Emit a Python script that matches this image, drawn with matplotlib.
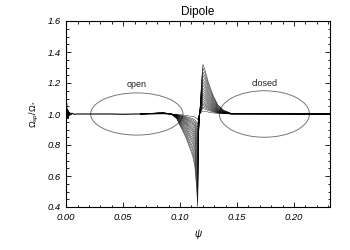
import matplotlib
matplotlib.use("Agg")
import matplotlib.pyplot as plt
from matplotlib.patches import Ellipse
from matplotlib.ticker import MultipleLocator, FormatStrFormatter

plt.rcParams['font.family'] = ['Liberation Sans', 'DejaVu Sans']
plt.rcParams['mathtext.fontset'] = 'custom'
plt.rcParams['mathtext.rm'] = 'Liberation Sans'
plt.rcParams['mathtext.it'] = 'Liberation Sans:italic'

# inner region: wiggle near the axis, then flat
psi_start = [0.0, 0.0004, 0.0008, 0.0012, 0.0016, 0.002, 0.0025, 0.003, 0.004,
             0.005, 0.007, 0.010, 0.015, 0.020, 0.030, 0.040, 0.050, 0.060, 0.065]
omega_start = [1.00, 1.07, 0.98, 1.03, 0.97, 1.02, 0.99, 1.01, 0.995,
               1.005, 0.998, 1.0, 1.0, 1.0, 1.0, 1.0, 0.998, 1.0, 1.0]

# family of curves across the separatrix
psi_fan = [0.065, 0.085, 0.092, 0.097, 0.101, 0.105, 0.108, 0.111, 0.113, 0.1145,
           0.1155, 0.1162, 0.117, 0.118, 0.119, 0.120, 0.122, 0.125, 0.129, 0.133,
           0.138, 0.145, 0.231]
omega_fan = [
    [1.0, 1.010, 1.0, 0.970, 0.910, 0.850, 0.790, 0.730, 0.660, 0.520, 0.400, 0.850,
     0.980, 1.100, 1.230, 1.320, 1.280, 1.200, 1.120, 1.060, 1.025, 1.003, 1.0],
    [1.0, 1.009, 1.0, 0.972, 0.916, 0.861, 0.805, 0.749, 0.684, 0.554, 0.442, 0.861,
     0.981, 1.093, 1.214, 1.298, 1.260, 1.186, 1.112, 1.056, 1.023, 1.003, 1.0],
    [1.0, 1.008, 1.0, 0.975, 0.924, 0.873, 0.822, 0.771, 0.711, 0.592, 0.490, 0.873,
     0.983, 1.085, 1.196, 1.272, 1.238, 1.170, 1.102, 1.051, 1.021, 1.003, 1.0],
    [1.0, 1.008, 1.0, 0.977, 0.930, 0.883, 0.836, 0.789, 0.735, 0.626, 0.532, 0.883,
     0.984, 1.078, 1.179, 1.250, 1.218, 1.156, 1.094, 1.047, 1.020, 1.002, 1.0],
    [1.0, 1.007, 1.0, 0.979, 0.937, 0.895, 0.853, 0.811, 0.762, 0.664, 0.580, 0.895,
     0.986, 1.070, 1.161, 1.224, 1.196, 1.140, 1.084, 1.042, 1.018, 1.002, 1.0],
    [1.0, 1.006, 1.0, 0.981, 0.942, 0.904, 0.866, 0.827, 0.782, 0.693, 0.616, 0.904,
     0.987, 1.064, 1.147, 1.205, 1.179, 1.128, 1.077, 1.038, 1.016, 1.002, 1.0],
    [1.0, 1.006, 1.0, 0.983, 0.948, 0.913, 0.878, 0.843, 0.803, 0.722, 0.652, 0.913,
     0.988, 1.058, 1.133, 1.186, 1.162, 1.116, 1.070, 1.035, 1.015, 1.002, 1.0],
    [1.0, 1.005, 1.0, 0.984, 0.953, 0.922, 0.891, 0.860, 0.823, 0.750, 0.688, 0.922,
     0.990, 1.052, 1.120, 1.166, 1.146, 1.104, 1.062, 1.031, 1.013, 1.002, 1.0],
    [1.0, 1.005, 1.0, 0.986, 0.958, 0.930, 0.901, 0.873, 0.840, 0.774, 0.718, 0.930,
     0.991, 1.047, 1.108, 1.150, 1.132, 1.094, 1.056, 1.028, 1.012, 1.001, 1.0],
    [1.0, 1.004, 1.0, 0.987, 0.962, 0.937, 0.912, 0.887, 0.857, 0.798, 0.748, 0.937,
     0.992, 1.042, 1.097, 1.134, 1.118, 1.084, 1.050, 1.025, 1.011, 1.001, 1.0],
    [1.0, 1.004, 1.0, 0.989, 0.966, 0.943, 0.920, 0.897, 0.871, 0.818, 0.772, 0.943,
     0.992, 1.038, 1.087, 1.122, 1.106, 1.076, 1.046, 1.023, 1.010, 1.001, 1.0],
    [1.0, 1.003, 1.0, 0.990, 0.969, 0.949, 0.929, 0.908, 0.884, 0.837, 0.796, 0.949,
     0.993, 1.034, 1.078, 1.109, 1.095, 1.068, 1.041, 1.020, 1.009, 1.001, 1.0],
    [1.0, 1.003, 1.0, 0.991, 0.973, 0.955, 0.937, 0.919, 0.898, 0.856, 0.820, 0.955,
     0.994, 1.030, 1.069, 1.096, 1.084, 1.060, 1.036, 1.018, 1.008, 1.001, 1.0],
    [1.0, 1.003, 1.0, 0.992, 0.977, 0.961, 0.945, 0.930, 0.912, 0.875, 0.844, 0.961,
     0.995, 1.026, 1.060, 1.083, 1.073, 1.052, 1.031, 1.016, 1.007, 1.001, 1.0],
    [1.0, 1.002, 1.0, 0.993, 0.979, 0.966, 0.952, 0.938, 0.922, 0.890, 0.862, 0.966,
     0.995, 1.023, 1.053, 1.074, 1.064, 1.046, 1.028, 1.014, 1.006, 1.001, 1.0],
    [1.0, 1.002, 1.0, 0.994, 0.982, 0.970, 0.958, 0.946, 0.932, 0.904, 0.880, 0.970,
     0.996, 1.020, 1.046, 1.064, 1.056, 1.040, 1.024, 1.012, 1.005, 1.001, 1.0],
    [1.0, 1.002, 1.0, 0.995, 0.985, 0.975, 0.964, 0.954, 0.942, 0.918, 0.898, 0.975,
     0.997, 1.017, 1.039, 1.054, 1.048, 1.034, 1.020, 1.010, 1.004, 1.0, 1.0],
    [1.0, 1.001, 1.0, 0.996, 0.987, 0.979, 0.971, 0.962, 0.952, 0.933, 0.916, 0.979,
     0.997, 1.014, 1.032, 1.045, 1.039, 1.028, 1.017, 1.008, 1.004, 1.0, 1.0],
    [1.0, 1.001, 1.0, 0.997, 0.990, 0.984, 0.977, 0.970, 0.963, 0.947, 0.934, 0.984,
     0.998, 1.011, 1.025, 1.035, 1.031, 1.022, 1.013, 1.007, 1.003, 1.0, 1.0],
    [1.0, 1.001, 1.0, 0.998, 0.995, 0.991, 0.987, 0.984, 0.980, 0.971, 0.964, 0.991,
     0.999, 1.006, 1.014, 1.019, 1.017, 1.012, 1.007, 1.004, 1.002, 1.0, 1.0],
]

open_center = (0.062, 1.0)
open_size = (0.081, 0.272)
closed_center = (0.174, 1.0)
closed_size = (0.079, 0.300)

fig = plt.figure(figsize=(3.5, 2.5), dpi=100)
ax = fig.add_axes([0.189, 0.172, 0.754, 0.744])

ax.plot(psi_start, omega_start, color='black', lw=0.8)
for curve in omega_fan:
    ax.plot(psi_fan, curve, color='black', lw=0.3)

ax.add_patch(Ellipse(open_center, open_size[0], open_size[1], fill=False,
                     edgecolor='#777777', lw=0.7))
ax.add_patch(Ellipse(closed_center, closed_size[0], closed_size[1], fill=False,
                     edgecolor='#777777', lw=0.7))
ax.text(0.062, 1.19, 'open', fontsize=6.5, ha='center', va='center', color='#222222')
ax.text(0.174, 1.20, 'closed', fontsize=6.5, ha='center', va='center', color='#222222')

ax.set_xlim(0, 0.2316)
ax.set_ylim(0.4, 1.6)
ax.xaxis.set_major_locator(MultipleLocator(0.05))
ax.xaxis.set_minor_locator(MultipleLocator(0.01))
ax.yaxis.set_major_locator(MultipleLocator(0.2))
ax.yaxis.set_minor_locator(MultipleLocator(0.05))
ax.xaxis.set_major_formatter(FormatStrFormatter('%.2f'))
ax.yaxis.set_major_formatter(FormatStrFormatter('%.1f'))
ax.tick_params(which='both', direction='in', top=True, right=True, width=0.6,
               labelsize=6.8, pad=4)
ax.tick_params(which='major', length=3.5)
ax.tick_params(which='minor', length=1.8)
for lab in ax.get_xticklabels() + ax.get_yticklabels():
    lab.set_fontstyle('italic')
for sp in ax.spines.values():
    sp.set_linewidth(0.8)

ax.set_title('Dipole', fontsize=8.5, pad=4)
ax.set_xlabel(r'$\psi$', fontsize=7, labelpad=4)
ax.set_ylabel(r'$\Omega_{sp}/\Omega_{*}$', fontsize=6.5, labelpad=5)

fig.savefig('out.png', dpi=100)
